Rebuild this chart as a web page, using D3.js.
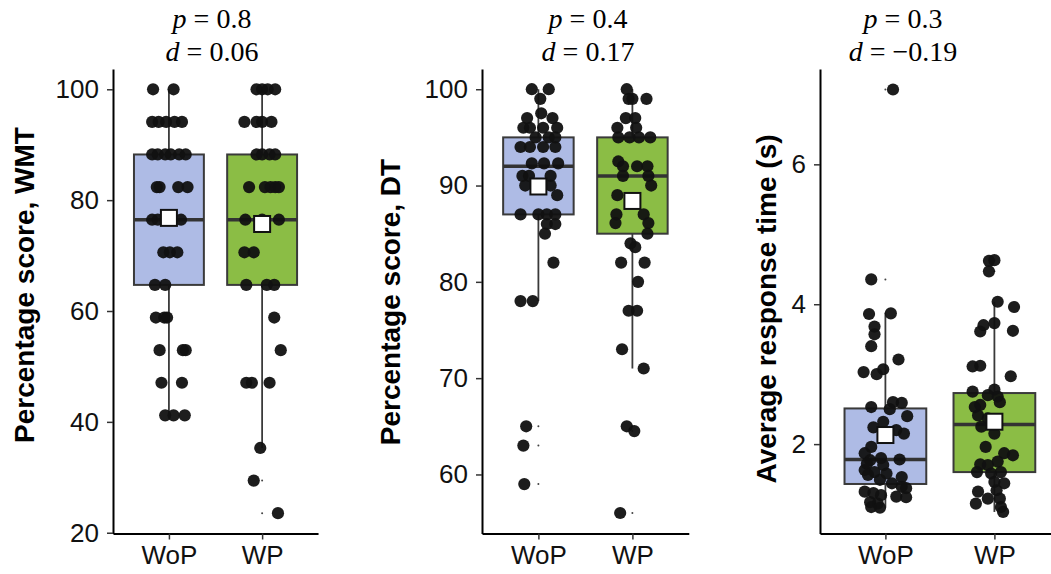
<!DOCTYPE html>
<html>
<head>
<meta charset="utf-8">
<script src="https://cdn.jsdelivr.net/npm/d3@7/dist/d3.min.js"></script>
<style>
  body { margin: 0; background: #fff; }
  svg { display: block; }
</style>
</head>
<body>
<svg id="chart" width="1051" height="574"></svg>
<script>
// ---- data ----
const groups = ["WoP", "WP"];

// WMT percentage scores (k/17) and horizontal jitter in category units
const wmtWoP    = [100,100, 94.12,94.12,94.12,94.12,94.12, 88.24,88.24,88.24,88.24,88.24,88.24,
                   82.35,82.35,82.35,82.35, 76.47,76.47,76.47,76.47, 70.59,70.59,70.59, 64.71,64.71,
                   58.82,58.82,58.82, 52.94,52.94,52.94, 47.06,47.06, 41.18,41.18,41.18];
const wmtWoPJit = [-0.17,0.05, -0.18,-0.11,-0.03,0.06,0.14, -0.18,-0.12,-0.04,0.02,0.11,0.18,
                   -0.13,-0.10,0.10,0.20, -0.18,-0.12,0.01,0.13, -0.06,0.01,0.09, -0.15,-0.04,
                   -0.14,-0.05,-0.02, -0.10,0.15,0.18, -0.08,0.14, -0.04,0.05,0.17];
const wmtWP     = [100,100,100,100, 94.12,94.12,94.12,94.12, 88.24,88.24,88.24,88.24,
                   82.35,82.35,82.35,82.35,82.35, 76.47,76.47,76.47, 70.59,70.59, 64.71,64.71,64.71,
                   58.82, 52.94, 47.06,47.06,47.06, 35.29, 29.41, 23.53];
const wmtWPJit  = [-0.06,0,0.06,0.14, -0.19,-0.06,0,0.10, -0.06,0,0.08,0.14,
                   -0.14,0.03,0.09,0.14,0.18, -0.18,0,0.18, -0.19,-0.09, -0.17,0.05,0.13,
                   0.13, 0.20, -0.17,-0.11,0.08, -0.02, -0.09, 0.17];
const wmtBox  = [[41.18, 64.71, 76.47, 88.24, 100], [35.29, 64.71, 76.47, 88.24, 100]];
const wmtMean = [76.8, 75.7];

// DT percentage scores
const dtWoP    = [100,100, 99, 97.5, 97,97, 96,96,96,96, 95,95,95, 94,94,94,94, 92.3,92.3,92.3,
                  91,91,91, 90,90, 89, 87,87,87,87, 86,86, 85, 82, 78,78, 65, 63, 59];
const dtWoPJit = [-0.07,0.11, 0.02, 0.03, -0.12,0.15, -0.16,-0.09,0.05,0.20, -0.03,0.11,0.18,
                  -0.19,-0.09,0.05,0.18, -0.07,0.06,0.21, -0.17,-0.10,0.13, -0.14,0.13, 0.20,
                  -0.19,0,0.09,0.18, 0.09,0.18, 0.07, 0.16, -0.19,-0.06, -0.13, -0.16, -0.15];
const dtWP     = [100, 99,99,99, 97,97, 96,96, 95,95,95,95, 92.5, 92,92,92, 91,91, 90, 89, 88.5,
                  87,87, 86.1,86.1, 85, 84,83.6, 82,82, 80, 77,77, 73, 71, 65, 64.5, 56];
const dtWPJit  = [-0.06, -0.04,0,0.15, -0.07,0.03, -0.16,0.04, -0.15,-0.03,0.07,0.19, -0.15,
                  -0.10,0.05,0.16, -0.10,0.17, 0.20, -0.16, -0.02, -0.17,0.12, 0.17,-0.18, 0.16,
                  -0.02,0.03, -0.12,0.13, 0.06, -0.04,0.05, -0.11, 0.12, -0.06, 0.02, -0.13];
const dtBox  = [[78, 87, 92, 95, 100], [71, 85, 91, 95, 100]];
const dtMean = [89.9, 88.4];

// Average response time (s)
const rtWoP    = [3.86,3.87,3.68,3.57,3.40,3.21,3.03,3.07,3.00,2.60,2.59,2.53,2.50,2.40,2.32,2.24,
                  2.20,2.15,1.96,1.87,1.77,1.80,1.78,1.70,1.63,1.60,1.58,1.53,1.49,1.44,1.39,1.37,
                  1.32,1.30,1.27,1.25,1.24,1.17,1.15,1.10,1.09,1.72,1.56, 4.355, 7.07];
const rtWoPJit = [-0.15,0.05,-0.10,-0.10,-0.13,0.12,-0.20,-0.02,-0.08,0.07,0.15,-0.13,0.04,0.20,
                  -0.02,-0.11,0.10,0.17,-0.13,-0.19,-0.14,-0.04,0.13,-0.02,-0.19,-0.10,0.01,0.15,
                  -0.05,0.06,0.15,0.19,-0.19,-0.11,-0.04,0.10,0.19,-0.14,-0.07,-0.13,-0.05,-0.17,
                  -0.16, -0.13, 0.07];
const rtWP     = [4.035,3.96,3.70,3.73,3.61,3.62,3.11,3.12,2.97,2.75,2.78,2.68,2.70,2.56,2.60,2.41,
                  2.37,2.25,2.15,1.96,1.87,1.84,1.75,1.71,1.70,1.60,1.58,1.60,1.46,1.44,1.34,1.32,
                  1.22,1.22,1.15,1.10,1.03,2.53, 4.62,4.63,4.47];
const rtWPJit  = [0.03,0.18,-0.10,0.00,-0.13,0.17,-0.20,-0.13,0.15,-0.20,0.00,0.03,-0.06,-0.13,
                  0.05,-0.15,-0.06,-0.12,0.00,-0.08,0.09,0.17,0.03,-0.13,-0.06,-0.16,-0.03,0.06,
                  0.00,0.09,0.02,-0.15,-0.06,0.05,-0.17,0.06,0.08,-0.18, -0.05,0.00,-0.05];
const rtBox  = [[1.09, 1.43, 1.78, 2.51, 3.86], [1.03, 1.60, 2.28, 2.73, 4.035]];
const rtMean = [2.13, 2.32];

// per-panel annotation text
const pLabels = ["0.8", "0.4", "0.3"];
const dLabels = ["0.06", "0.17", "\u22120.19"];
const yTitles = ["Percentage score, WMT", "Percentage score, DT", "Average response time (s)"];
const yTicks  = [[20, 40, 60, 80, 100], [60, 70, 80, 90, 100], [2, 4, 6]];

// ---- layout ----
const svg = d3.select("#chart");
const fills = ["#AEBBE5", "#8BBD45"];
const TOP = 69, BOTTOM = 533.5;
const SANS = "'Liberation Sans', Arial, sans-serif";

const panels = [
  { x0: 113, unit: 93.2, yDom: [19.86, 103.66], titleX: 34,  titleY: 285, annX: 212,
    series: [[wmtWoP, wmtWoPJit], [wmtWP, wmtWPJit]], box: wmtBox, mean: wmtMean },
  { x0: 482, unit: 94,   yDom: [53.87, 102.1],  titleX: 400, titleY: 302, annX: 588,
    series: [[dtWoP, dtWoPJit], [dtWP, dtWPJit]], box: dtBox, mean: dtMean },
  { x0: 820, unit: 109,  yDom: [0.722, 7.363],  titleX: 776, titleY: 309, annX: 903,
    series: [[rtWoP, rtWoPJit], [rtWP, rtWPJit]], box: rtBox, mean: rtMean },
];

panels.forEach((p, i) => {
  const x = d3.scaleLinear().domain([0.4, 2.6]).range([p.x0, p.x0 + 2.2 * p.unit]);
  const y = d3.scaleLinear().domain(p.yDom).range([BOTTOM, TOP]);
  const g = svg.append("g");
  const halfW = 0.375 * p.unit;

  // boxes + whiskers
  p.box.forEach((b, k) => {
    const cx = x(k + 1);
    g.append("line").attr("x1", cx).attr("x2", cx).attr("y1", y(b[4])).attr("y2", y(b[3]))
      .attr("stroke", "#3a3a3a").attr("stroke-width", 1.8);
    g.append("line").attr("x1", cx).attr("x2", cx).attr("y1", y(b[1])).attr("y2", y(b[0]))
      .attr("stroke", "#3a3a3a").attr("stroke-width", 1.8);
    g.append("rect")
      .attr("x", cx - halfW).attr("width", 2 * halfW)
      .attr("y", y(b[3])).attr("height", y(b[1]) - y(b[3]))
      .attr("fill", fills[k]).attr("stroke", "#3a3a3a").attr("stroke-width", 2);
    g.append("line").attr("x1", cx - halfW).attr("x2", cx + halfW)
      .attr("y1", y(b[2])).attr("y2", y(b[2]))
      .attr("stroke", "#333").attr("stroke-width", 3.5);
    // tiny outlier marks at the category centre
    p.series[k][0].filter(v => v < b[0] || v > b[4]).forEach(v => {
      g.append("circle").attr("cx", cx).attr("cy", y(v)).attr("r", 1).attr("fill", "#444");
    });
  });

  // jittered points
  p.series.forEach(([vals, jit], k) => {
    g.selectAll(null).data(vals).enter().append("circle")
      .attr("cx", (d, j) => x(k + 1 + jit[j]))
      .attr("cy", d => y(d))
      .attr("r", 6.1)
      .attr("fill", "#111")
      .attr("fill-opacity", 0.95);
  });

  // mean squares
  p.mean.forEach((m, k) => {
    g.append("rect").attr("x", x(k + 1) - 8).attr("y", y(m) - 8)
      .attr("width", 16).attr("height", 16)
      .attr("fill", "#fff").attr("stroke", "#111").attr("stroke-width", 2);
  });

  // axes
  const yAxis = g.append("g").attr("transform", `translate(${p.x0},0)`)
    .call(d3.axisLeft(y).tickValues(yTicks[i]).tickFormat(d3.format("d"))
      .tickSize(6).tickSizeOuter(0).tickPadding(8));
  const xAxis = g.append("g").attr("transform", `translate(0,${BOTTOM})`)
    .call(d3.axisBottom(x).tickValues([1, 2]).tickFormat(v => groups[v - 1])
      .tickSize(6).tickSizeOuter(0).tickPadding(6));
  [yAxis, xAxis].forEach(a => {
    a.select(".domain").attr("stroke", "#000").attr("stroke-width", 2);
    a.selectAll(".tick line").attr("stroke", "#333").attr("stroke-width", 1.5);
    a.selectAll(".tick text").attr("fill", "#111")
      .style("font-family", SANS).style("font-size", "26px");
  });

  // y title
  svg.append("text")
    .attr("transform", `translate(${p.titleX},${p.titleY}) rotate(-90)`)
    .attr("text-anchor", "middle")
    .style("font-family", SANS)
    .style("font-size", "28px").style("font-weight", "bold")
    .attr("fill", "#000")
    .text(yTitles[i]);

  // p / d annotation
  [["p", pLabels[i], 28], ["d", dLabels[i], 61]].forEach(([sym, val, by]) => {
    const t = svg.append("text").attr("x", p.annX).attr("y", by)
      .attr("text-anchor", "middle")
      .style("font-family", "'Liberation Serif', 'Times New Roman', Times, serif")
      .style("font-size", "28px").attr("fill", "#000");
    t.append("tspan").style("font-style", "italic").text(sym);
    t.append("tspan").text(" = " + val);
  });
});
</script>
</body>
</html>
